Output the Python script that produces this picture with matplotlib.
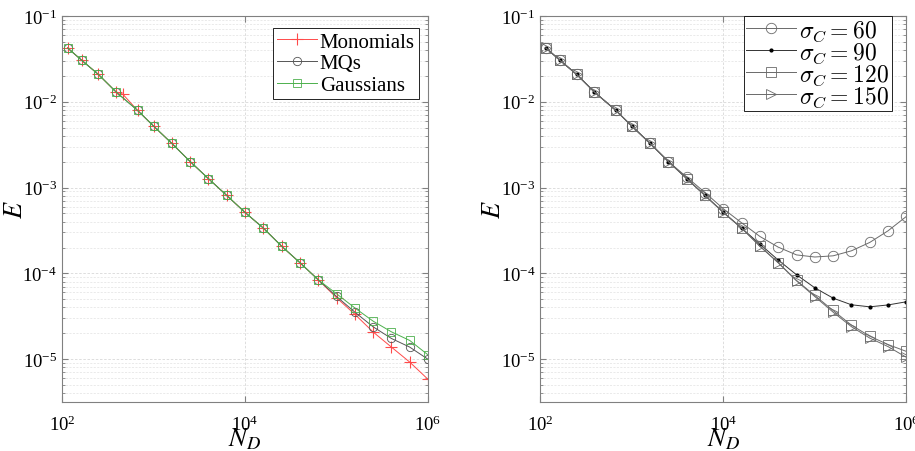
import numpy as np
import matplotlib
matplotlib.use("Agg")
import matplotlib.pyplot as plt
from matplotlib.ticker import LogLocator, NullLocator
from matplotlib.font_manager import FontProperties

plt.rcParams['font.family'] = ['Liberation Serif', 'DejaVu Serif']
plt.rcParams['mathtext.fontset'] = 'stix'

# number of data points N_D
nd = [115, 165, 250, 390, 670, 1000, 1585, 2512, 3981, 6310, 10000, 15849,
      25119, 39811, 63096, 100000, 158489, 251189, 398107, 630957, 1000000]

# shared head of all curves (first 15 points)
head = [0.0424, 0.0303, 0.0208, 0.0130, 0.00792, 0.00521, 0.00327, 0.00201,
        0.00127, 0.000809, 0.000513, 0.000337, 0.000207, 0.000133, 8.41e-5]

# left panel
nd_mono = nd[:4] + [460] + nd[4:]
e_mono = head[:4] + [0.0123] + head[4:] + [5.19e-5, 3.33e-5, 2.07e-5, 1.38e-5, 9.23e-6, 5.81e-6]
e_mq = head + [5.37e-5, 3.53e-5, 2.38e-5, 1.74e-5, 1.38e-5, 9.95e-6]
e_gauss = head + [5.78e-5, 3.95e-5, 2.77e-5, 2.08e-5, 1.65e-5, 1.12e-5]

# right panel
e_s60 = head[:8] + [1.324e-3, 8.75e-4, 5.66e-4, 3.88e-4, 2.69e-4, 2.02e-4, 1.64e-4,
                    1.55e-4, 1.60e-4, 1.83e-4, 2.29e-4, 3.13e-4, 4.60e-4]
e_s90 = head[:12] + [2.19e-4, 1.43e-4, 9.62e-5, 6.78e-5, 5.14e-5, 4.30e-5, 4.07e-5,
                     4.28e-5, 4.66e-5]
e_s120 = head[:14] + [8.26e-5, 5.52e-5, 3.69e-5, 2.49e-5, 1.85e-5, 1.48e-5, 1.23e-5]
e_s150 = head[:14] + [8.18e-5, 5.36e-5, 3.53e-5, 2.39e-5, 1.76e-5, 1.40e-5, 1.05e-5]

fig = plt.figure(figsize=(9.15, 4.52), dpi=100)
ax1 = fig.add_axes([0.0678, 0.1084, 0.4, 0.854])
ax2 = fig.add_axes([0.5905, 0.1084, 0.4, 0.854])


def style(ax):
    ax.set_xscale('log')
    ax.set_yscale('log')
    ax.set_xlim(1e2, 1e6)
    ax.set_ylim(10 ** -5.5, 1e-1)
    ax.set_xticks([1e2, 1e4, 1e6])
    ax.xaxis.set_minor_locator(NullLocator())
    ax.yaxis.set_major_locator(LogLocator(base=10, numticks=10))
    ax.yaxis.set_minor_locator(LogLocator(base=10, subs=np.arange(2, 10), numticks=10))
    ax.grid(True, which='major', color='#d8d8d8', linestyle=(0, (3, 2)), linewidth=0.6)
    ax.grid(True, which='minor', axis='y', color='#e2e2e2', linestyle=(0, (3, 2)), linewidth=0.5)
    ax.set_axisbelow(True)
    for s in ax.spines.values():
        s.set_color('#808080')
        s.set_linewidth(0.8)
    ax.tick_params(which='both', direction='in', top=True, right=True, colors='#808080',
                   labelcolor='black', labelsize=13.5)
    ax.tick_params(which='major', length=4)
    ax.tick_params(which='minor', length=2)
    ax.tick_params(axis='x', pad=9)
    ax.set_xlabel('$N_D$', fontsize=19, labelpad=-6)
    ax.set_ylabel('$E$', fontsize=19, labelpad=-3)


style(ax1)
style(ax2)

ax1.plot(nd_mono, e_mono, color='#ff4a4a', lw=0.7, marker='+', ms=8, mew=0.8, label='Monomials')
ax1.plot(nd, e_mq, color='#555555', lw=0.7, marker='o', ms=6, mfc='none', mew=0.6, label='MQs')
ax1.plot(nd, e_gauss, color='#4cb04c', lw=0.7, marker='s', ms=5.5, mfc='none', mew=0.6, label='Gaussians')
leg1 = ax1.legend(loc='upper right', fontsize=15, frameon=True, fancybox=False, framealpha=1,
                  edgecolor='black', handlelength=1.9, borderpad=0.2, labelspacing=0.1,
                  handletextpad=0.15, borderaxespad=0.3, bbox_to_anchor=(0.992, 0.985))
leg1.get_frame().set_linewidth(0.6)

gray = '#6a6a6a'
ax2.plot(nd, e_s60, color=gray, lw=0.7, marker='o', ms=7.5, mfc='none', mec=gray, mew=0.6,
         label=r'$\sigma_C = 60$')
ax2.plot(nd, e_s90, color='#333333', lw=0.7, marker='.', ms=4, mfc='black', mec='black',
         label=r'$\sigma_C = 90$')
ax2.plot(nd, e_s120, color=gray, lw=0.7, marker='s', ms=6.5, mfc='none', mec=gray, mew=0.6,
         label=r'$\sigma_C = 120$')
ax2.plot(nd, e_s150, color=gray, lw=0.7, marker='>', ms=7.5, mfc='none', mec=gray, mew=0.6,
         label=r'$\sigma_C = 150$')
leg2 = ax2.legend(loc='upper right', prop=FontProperties(size=17, math_fontfamily='cm'),
                  frameon=True, fancybox=False, framealpha=1, edgecolor='black',
                  handlelength=2.1, borderpad=0.1, labelspacing=-0.1, handletextpad=0.15,
                  borderaxespad=0.0, bbox_to_anchor=(0.96, 1.0))
leg2.get_frame().set_linewidth(0.6)

fig.savefig('out.png', dpi=100)
